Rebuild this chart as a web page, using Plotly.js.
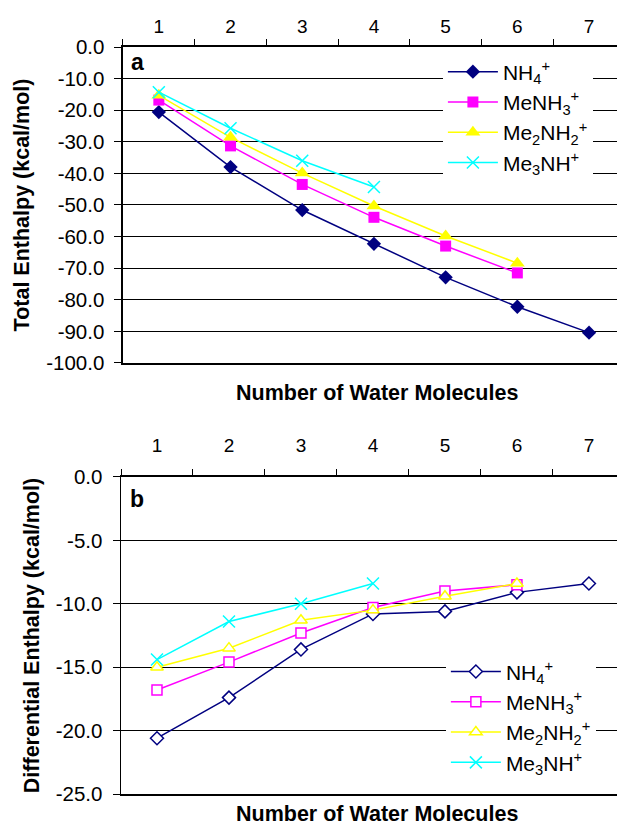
<!DOCTYPE html>
<html>
<head>
<meta charset="utf-8">
<script src="https://cdn.plot.ly/plotly-3.0.1.min.js"></script>
<style>html,body{margin:0;padding:0;background:#fff;}#chart{width:617px;height:826px;}</style>
</head>
<body>
<div id="chart"></div>
<script>
// Categories: number of water molecules
const waters = ['1', '2', '3', '4', '5', '6', '7'];

// Panel a: total enthalpy (kcal/mol)
const totalNH4 = [-20.6, -38.0, -51.6, -62.3, -72.9, -82.2, -90.4];
const totalMeNH3 = [-16.8, -31.3, -43.5, -53.9, -63.0, -71.5];
const totalMe2NH2 = [-15.3, -28.6, -39.9, -50.3, -59.8, -68.4];
const totalMe3NH = [-14.3, -25.7, -36.0, -44.3];

// Panel b: differential enthalpy (kcal/mol)
const diffNH4 = [-20.6, -17.4, -13.6, -10.8, -10.6, -9.1, -8.4];
const diffMeNH3 = [-16.8, -14.6, -12.3, -10.3, -9.0, -8.5];
const diffMe2NH2 = [-15.0, -13.5, -11.3, -10.5, -9.4, -8.4];
const diffMe3NH = [-14.4, -11.4, -10.0, -8.4];

// Series names and tick labels
const names = ['NH<sub>4</sub><sup>+</sup>', 'MeNH<sub>3</sub><sup>+</sup>', 'Me<sub>2</sub>NH<sub>2</sub><sup>+</sup>', 'Me<sub>3</sub>NH<sup>+</sup>'];
const yTickValsA = [0, -10, -20, -30, -40, -50, -60, -70, -80, -90, -100];
const yTickTextA = ['0.0', '-10.0', '-20.0', '-30.0', '-40.0', '-50.0', '-60.0', '-70.0', '-80.0', '-90.0', '-100.0'];
const yTickValsB = [0, -5, -10, -15, -20, -25];
const yTickTextB = ['0.0', '-5.0', '-10.0', '-15.0', '-20.0', '-25.0'];

const colors = ['#000080', '#FF00FF', '#FFFF00', '#00FFFF'];
const FONT = '"Liberation Sans", Arial, Helvetica, sans-serif';

const totals = [totalNH4, totalMeNH3, totalMe2NH2, totalMe3NH];
const diffs = [diffNH4, diffMeNH3, diffMe2NH2, diffMe3NH];
const symA = ['diamond', 'square', 'triangle-up', 'x-thin'];
const sizeA = [11, 11, 13, 12];
const symB = ['diamond', 'square', 'triangle-up', 'x-thin'];
const sizeB = [10, 10, 11, 12];

const traces = [];
totals.forEach((vals, i) => {
  const isX = symA[i] === 'x-thin';
  traces.push({
    type: 'scatter', mode: 'lines+markers',
    x: waters.slice(0, vals.length), y: vals,
    xaxis: 'x', yaxis: 'y', legend: 'legend',
    name: names[i],
    line: {color: colors[i], width: 1.5},
    marker: {symbol: symA[i], size: sizeA[i], color: colors[i],
             line: {color: colors[i], width: isX ? 1.5 : 0}}
  });
});
diffs.forEach((vals, i) => {
  const isX = symB[i] === 'x-thin';
  traces.push({
    type: 'scatter', mode: 'lines+markers',
    x: waters.slice(0, vals.length), y: vals,
    xaxis: 'x2', yaxis: 'y2', legend: 'legend2',
    name: names[i],
    line: {color: colors[i], width: 1.5},
    marker: {symbol: symB[i], size: sizeB[i], color: isX ? colors[i] : '#ffffff',
             line: {color: colors[i], width: 1.5}}
  });
});

const xCommon = {
  type: 'category', categoryorder: 'array', categoryarray: waters,
  side: 'top', tickson: 'boundaries', ticks: 'outside', ticklen: 6, tickwidth: 1,
  tickcolor: '#000', showline: true, linecolor: '#000', linewidth: 2, mirror: true,
  showgrid: false, zeroline: false, fixedrange: true,
  tickfont: {family: FONT, size: 19, color: '#000'},
  range: [-0.5, 6.39]
};
const yCommon = {
  ticks: 'outside', ticklen: 7, tickwidth: 1, tickcolor: '#000',
  showline: true, linecolor: '#000', linewidth: 1.5,
  showgrid: true, gridcolor: '#000', gridwidth: 1, zeroline: false,
  tickfont: {family: FONT, size: 20.5, color: '#000'},
  ticklabelstandoff: 6
};

const layout = {
  width: 617, height: 826,
  margin: {l: 121, r: 0, t: 47, b: 32},
  paper_bgcolor: '#fff', plot_bgcolor: '#fff',
  font: {family: FONT, color: '#000'},
  showlegend: true,
  xaxis: Object.assign({}, xCommon, {anchor: 'y', domain: [0.004, 1], ticklabelstandoff: 4}),
  xaxis2: Object.assign({}, xCommon, {anchor: 'y2', domain: [0, 1], ticklabelstandoff: 15}),
  yaxis: Object.assign({}, yCommon, {
    anchor: 'x', domain: [0.577, 1], range: [-100, 0],
    tickvals: yTickValsA, ticktext: yTickTextA,
    title: {text: '<b>Total Enthalpy (kcal/mol)</b>', font: {family: FONT, size: 21.5, color: '#000'}, standoff: 10}
  }),
  yaxis2: Object.assign({}, yCommon, {
    anchor: 'x2', domain: [0, 0.4244], range: [-25, 0],
    tickvals: yTickValsB, ticktext: yTickTextB,
    title: {text: '<b>Differential Enthalpy (kcal/mol)</b>', font: {family: FONT, size: 21.5, color: '#000'}, standoff: 10}
  }),
  legend: {
    x: 0.649, xanchor: 'left', y: 0.994, yanchor: 'top',
    bgcolor: '#fff', borderwidth: 0, itemwidth: 50,
    font: {family: FONT, size: 21, color: '#000'}, traceorder: 'normal'
  },
  legend2: {
    x: 0.655, xanchor: 'left', y: 0.191, yanchor: 'top',
    bgcolor: '#fff', borderwidth: 0, itemwidth: 50,
    font: {family: FONT, size: 21, color: '#000'}, traceorder: 'normal'
  },
  annotations: [
    {text: '<b>a</b>', xref: 'paper', yref: 'paper', x: 0.034, y: 0.98, xanchor: 'center', yanchor: 'middle', showarrow: false, font: {family: FONT, size: 23, color: '#000'}},
    {text: '<b>b</b>', xref: 'paper', yref: 'paper', x: 0.032, y: 0.395, xanchor: 'center', yanchor: 'middle', showarrow: false, font: {family: FONT, size: 23, color: '#000'}},
    {text: '<b>Number of Water Molecules</b>', xref: 'paper', yref: 'paper', x: 0.516, y: 0.537, xanchor: 'center', yanchor: 'middle', showarrow: false, font: {family: FONT, size: 21.5, color: '#000'}},
    {text: '<b>Number of Water Molecules</b>', xref: 'paper', yref: 'paper', x: 0.516, y: -0.027, xanchor: 'center', yanchor: 'middle', showarrow: false, font: {family: FONT, size: 21.5, color: '#000'}}
  ]
};

Plotly.newPlot('chart', traces, layout, {displayModeBar: false, staticPlot: true});
</script>
</body>
</html>
